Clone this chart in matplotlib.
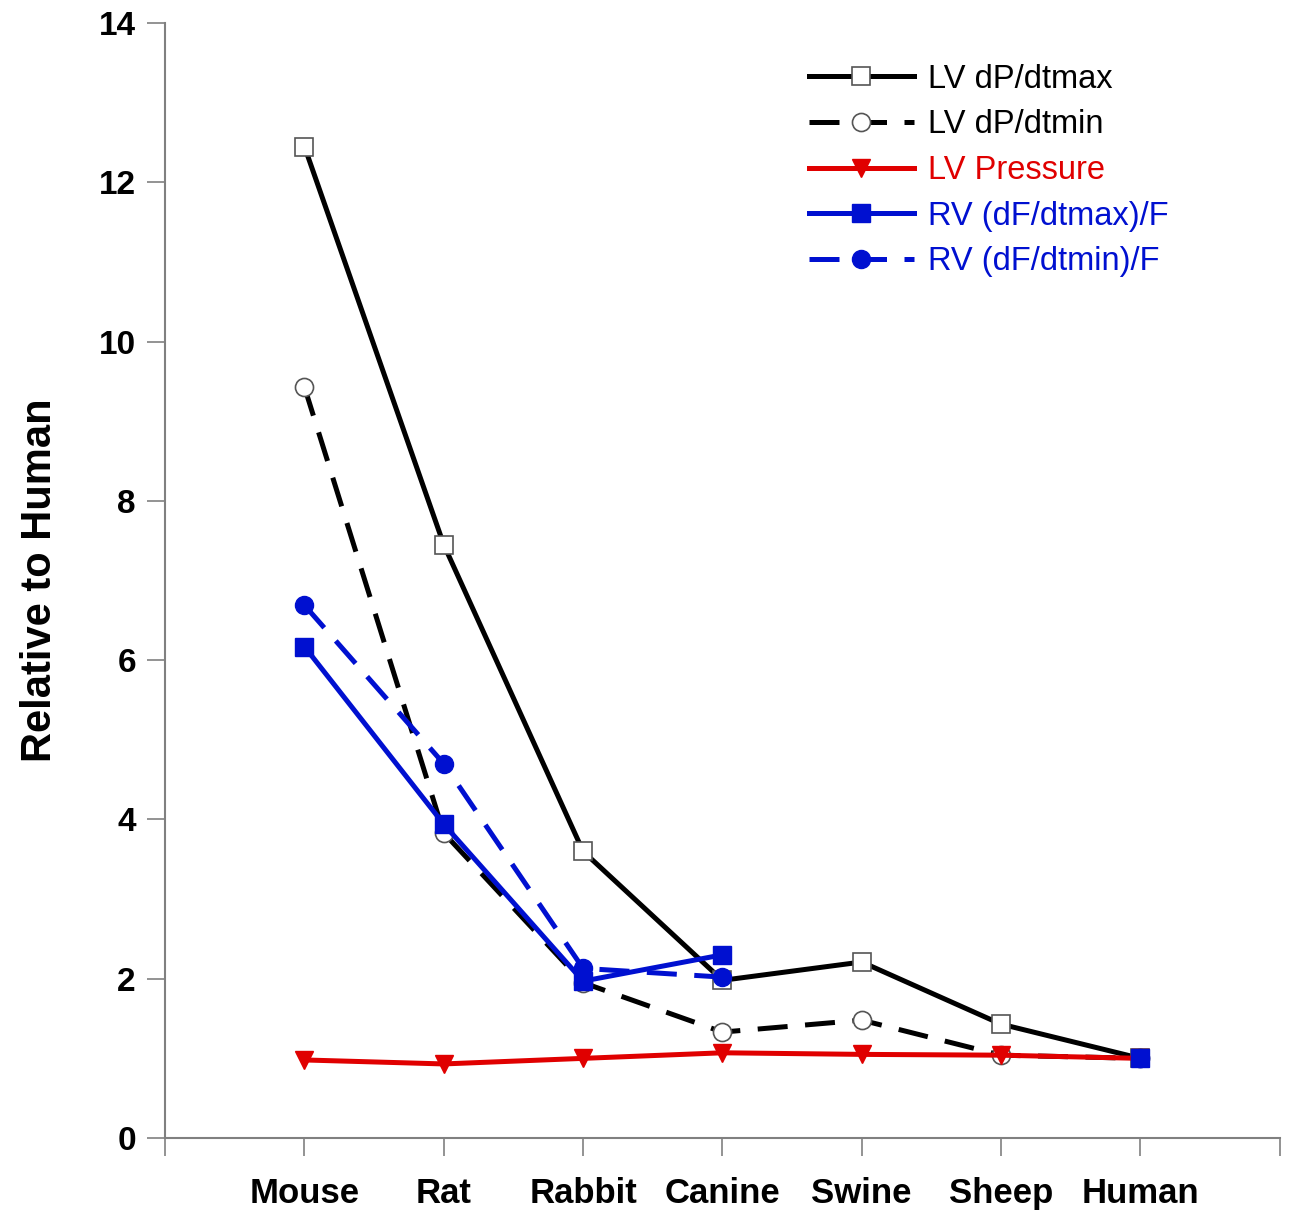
import numpy as np
import matplotlib.pyplot as plt

species = ['Mouse', 'Rat', 'Rabbit', 'Canine', 'Swine', 'Sheep', 'Human']
lv_dpdt_max = [12.45, 7.45, 3.60, 1.98, 2.21, 1.43, 1.0]
lv_dpdt_min = [9.43, 3.83, 1.95, 1.33, 1.48, 1.04, 1.0]
lv_pressure = [0.98, 0.93, 1.00, 1.07, 1.05, 1.04, 1.0]
rv_dfdt_max = [6.17, 3.94, 1.97, 2.30, np.nan, np.nan, 1.0]
rv_dfdt_min = [6.69, 4.70, 2.13, 2.02, np.nan, np.nan, 1.0]

plt.rcParams['font.family'] = ['Liberation Sans', 'DejaVu Sans']

fig = plt.figure(figsize=(12.9, 12.14), dpi=100)
ax = fig.add_axes([0.128, 0.0626, 0.864, 0.9184])
x = np.arange(1, len(species) + 1)

ax.plot(x, lv_dpdt_max, color='black', lw=3.6, marker='s', ms=13,
        mfc='white', mec='#555555', mew=1.2, label='LV dP/dtmax')
ax.plot(x, lv_dpdt_min, color='black', lw=3.6, ls=(0, (6, 3.5)), marker='o', ms=13,
        mfc='white', mec='#555555', mew=1.2, label='LV dP/dtmin')
ax.plot(x, lv_pressure, color='#e00000', lw=3.6, marker='v', ms=13,
        label='LV Pressure')
ax.plot(x, rv_dfdt_max, color='#0010d0', lw=3.6, marker='s', ms=13,
        label='RV (dF/dtmax)/F', zorder=4)
ax.plot(x, rv_dfdt_min, color='#0010d0', lw=3.6, ls=(0, (6, 3.5)), marker='o', ms=13,
        label='RV (dF/dtmin)/F', zorder=3)

ax.set_xlim(0, 8)
ax.set_ylim(0, 14)
ax.set_xticks(range(0, 9))
ax.set_xticklabels([''] + species + [''])
ax.set_yticks(range(0, 15, 2))
for s in ['top', 'right']:
    ax.spines[s].set_visible(False)
for s in ['left', 'bottom']:
    ax.spines[s].set_color('#808080')
    ax.spines[s].set_linewidth(1.5)
ax.tick_params(axis='both', direction='out', length=13, width=1.2, color='#808080')
ax.tick_params(axis='x', pad=15, labelsize=25)
ax.tick_params(axis='y', pad=8, labelsize=24)
for t in ax.get_xticklabels() + ax.get_yticklabels():
    t.set_fontweight('bold')
ax.set_ylabel('Relative to Human', fontsize=30, fontweight='bold', labelpad=28)

leg = ax.legend(loc='upper right', bbox_to_anchor=(0.927, 0.99), frameon=False,
                fontsize=23.5, handlelength=3.2, handletextpad=0.45, labelspacing=0.45)
for txt, c in zip(leg.get_texts(), ['black', 'black', '#e00000', '#0010d0', '#0010d0']):
    txt.set_color(c)

fig.savefig('out.png', dpi=100)
